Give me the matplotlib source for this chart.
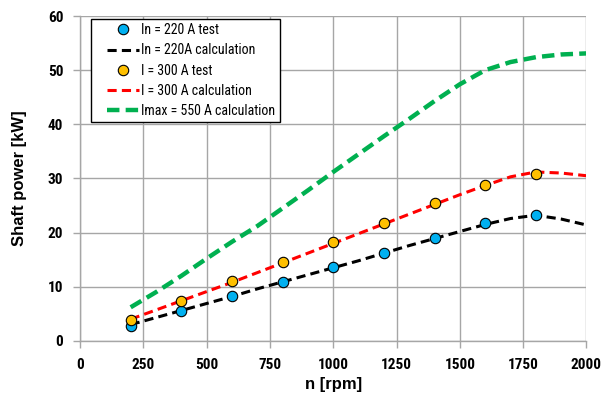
import matplotlib.pyplot as plt
from matplotlib.legend_handler import HandlerLine2D

# narrow font for ticks and legend, with fallbacks
narrow = ['Roboto Condensed', 'Liberation Sans Narrow', 'Liberation Sans']

# ---------------- data
n_test = [200, 400, 600, 800, 1000, 1200, 1400, 1600, 1800]
p_220_test = [2.8, 5.5, 8.2, 10.9, 13.6, 16.3, 19.0, 21.7, 23.2]
p_300_test = [3.8, 7.4, 11.0, 14.6, 18.2, 21.7, 25.4, 28.8, 30.8]

n_calc = [200, 300, 400, 500, 600, 700, 800, 900, 1000, 1100,
          1200, 1300, 1400, 1500, 1600, 1700, 1800, 1900, 2000]
p_220_calc = [3.0, 4.3, 5.6, 6.9, 8.2, 9.6, 10.9, 12.2, 13.5, 14.8,
              16.2, 17.6, 18.9, 20.2, 21.5, 22.6, 23.2, 22.5, 21.4]
p_300_calc = [4.0, 5.7, 7.4, 9.1, 10.8, 12.6, 14.4, 16.2, 18.0, 19.8,
              21.6, 23.4, 25.2, 27.0, 28.7, 30.3, 31.2, 31.0, 30.5]
p_550_calc = [6.2, 9.0, 12.0, 15.2, 18.3, 21.2, 24.5, 27.8, 31.2, 34.5,
              37.8, 41.0, 44.3, 47.4, 50.0, 51.5, 52.4, 52.9, 53.1]

labels = ['In = 220 A test', 'In = 220A calculation', 'I = 300 A test',
          'I = 300 A calculation', 'Imax = 550 A calculation']

xticks = [0, 250, 500, 750, 1000, 1250, 1500, 1750, 2000]
yticks = [0, 10, 20, 30, 40, 50, 60]

# ---------------- plot
fig = plt.figure(figsize=(6.04, 4.01), dpi=100)
ax = fig.add_axes([0.1325, 0.150, 0.8385, 0.810])

grid_c = '#a6a6a6'
ax.plot(n_test, p_220_test, 'o', color='#00B0F0', mec='black', mew=0.8, ms=7.5,
        label=labels[0], zorder=5)
ax.plot(n_calc, p_220_calc, color='black', lw=2.2, dashes=(3.0, 1.7),
        label=labels[1], zorder=4)
ax.plot(n_test, p_300_test, 'o', color='#FFC000', mec='black', mew=0.8, ms=7.5,
        label=labels[2], zorder=5)
ax.plot(n_calc, p_300_calc, color='#FF0000', lw=2.2, dashes=(3.0, 1.7),
        label=labels[3], zorder=4)
ax.plot(n_calc, p_550_calc, color='#00B050', lw=3.2, dashes=(2.8, 1.4),
        label=labels[4], zorder=4)

ax.set_xlim(0, 2000)
ax.set_ylim(0, 60)
ax.set_xticks(xticks)
ax.set_yticks(yticks)
ax.grid(True, color=grid_c, lw=1.0)
ax.set_axisbelow(True)
for s in ['top', 'right']:
    ax.spines[s].set_visible(False)
for s in ['left', 'bottom']:
    ax.spines[s].set_color(grid_c)
    ax.spines[s].set_linewidth(1.0)
ax.tick_params(length=5, color=grid_c, width=1.0, pad=7)
for t in ax.get_xticklabels() + ax.get_yticklabels():
    t.set_fontfamily(narrow)
    t.set_fontsize(11)
    t.set_fontweight('bold')

ax.set_xlabel('n [rpm]', fontsize=12, fontweight='bold', family='Liberation Sans', labelpad=4)
ax.set_ylabel('Shaft power [kW]', fontsize=12, fontweight='bold', family='Liberation Sans', labelpad=15)

fs = 10
hmap = {h: HandlerLine2D(xpad=0.86) for h in ax.get_lines()}
leg = ax.legend(loc='upper left', bbox_to_anchor=(0.0217, 0.991), borderaxespad=0,
                fancybox=False, framealpha=1, edgecolor='black',
                handlelength=3.17, handletextpad=0.15, borderpad=0.3,
                labelspacing=0.45, handler_map=hmap,
                prop={'family': narrow, 'size': fs})
leg.get_frame().set_linewidth(1.0)

fig.savefig('out.png', dpi=100)
